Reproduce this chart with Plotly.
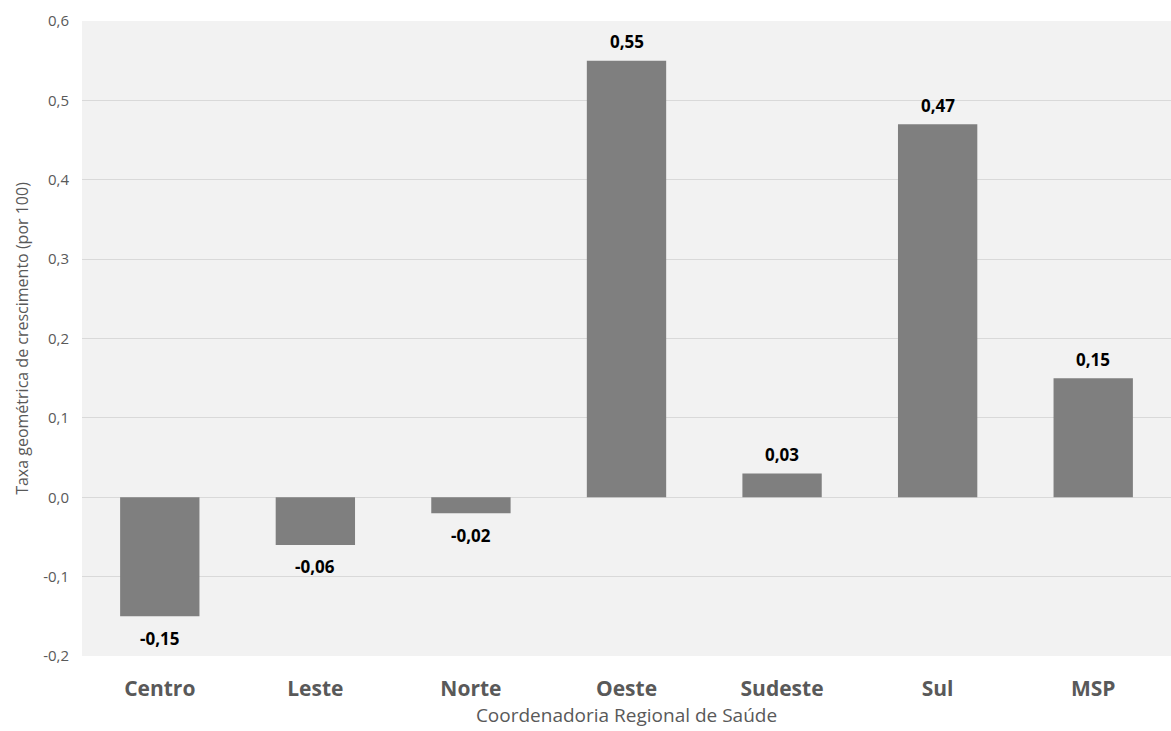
import plotly.graph_objects as go

regioes = ["Centro", "Leste", "Norte", "Oeste", "Sudeste", "Sul", "MSP"]
taxas = [-0.15, -0.06, -0.02, 0.55, 0.03, 0.47, 0.15]
y_ticks = [-0.2, -0.1, 0.0, 0.1, 0.2, 0.3, 0.4, 0.5, 0.6]

rotulos = [f"{v:.2f}".replace(".", ",") for v in taxas]
tick_text = [f"{v:.1f}".replace(".", ",") for v in y_ticks]

FONTE = "Open Sans"

fig = go.Figure(
    go.Bar(
        x=regioes,
        y=taxas,
        marker=dict(color="#7f7f7f", line=dict(width=0)),
        width=0.51,
        hoverinfo="x+y",
    )
)

# value labels above positive bars and below negative ones
for reg, val, txt in zip(regioes, taxas, rotulos):
    fig.add_annotation(
        x=reg,
        y=val,
        text=f"<b>{txt}</b>",
        showarrow=False,
        yanchor="middle",
        yshift=19 if val >= 0 else -22,
        font=dict(family=FONTE, size=17, color="#000000"),
    )

fig.update_layout(
    width=1171,
    height=731,
    margin=dict(l=82, r=0, t=21, b=75, autoexpand=False),
    paper_bgcolor="#ffffff",
    plot_bgcolor="#f2f2f2",
    showlegend=False,
    font=dict(family=FONTE, color="#595959"),
    xaxis=dict(
        title=dict(text="Coordenadoria Regional de Saúde",
                   font=dict(size=19, color="#595959"), standoff=6),
        tickfont=dict(size=21, color="#595959", weight="bold"),
        ticklabelstandoff=18,
        showgrid=False,
        showline=False,
        ticks="",
        automargin=False,
    ),
    yaxis=dict(
        title=dict(text="Taxa geométrica de crescimento (por 100)",
                   font=dict(size=16, color="#595959"), standoff=10),
        range=[-0.2, 0.6],
        tickvals=y_ticks,
        ticktext=tick_text,
        tickfont=dict(size=15, color="#595959"),
        ticklabelstandoff=12,
        showgrid=True,
        gridcolor="#d9d9d9",
        gridwidth=1,
        zeroline=True,
        zerolinecolor="#d9d9d9",
        zerolinewidth=1,
        ticks="",
        automargin=False,
    ),
)

fig.write_html("out.html")
